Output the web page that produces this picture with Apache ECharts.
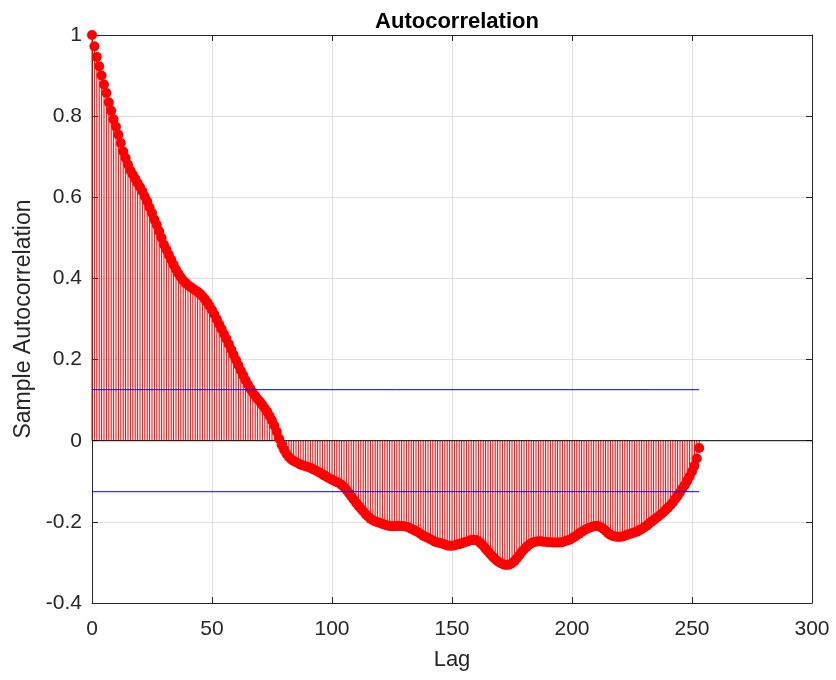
<!DOCTYPE html>
<html>
<head>
<meta charset="utf-8">
<script src="https://cdn.jsdelivr.net/npm/echarts@6/dist/echarts.min.js"></script>
<style>
html,body{margin:0;padding:0;background:#fff;}
#chart{width:836px;height:680px;}
</style>
</head>
<body>
<div id="chart"></div>
<script>
// Sample autocorrelation, lag 0..253 (index = lag)
const acf = [
 1.000, 0.972, 0.946, 0.923, 0.900, 0.878, 0.857, 0.834, 0.813, 0.792,
 0.774, 0.754, 0.734, 0.713, 0.697, 0.680, 0.666, 0.656, 0.646, 0.635,
 0.625, 0.615, 0.602, 0.590, 0.575, 0.561, 0.545, 0.532, 0.516, 0.500,
 0.483, 0.471, 0.458, 0.446, 0.434, 0.422, 0.412, 0.403, 0.395, 0.389,
 0.384, 0.379, 0.375, 0.371, 0.367, 0.362, 0.356, 0.349, 0.341, 0.332,
 0.322, 0.311, 0.299, 0.287, 0.275, 0.263, 0.251, 0.238, 0.225, 0.212,
 0.199, 0.186, 0.173, 0.161, 0.149, 0.138, 0.128, 0.119, 0.111, 0.103,
 0.096, 0.088, 0.080, 0.071, 0.061, 0.050, 0.037, 0.022, 0.005, -0.010,
 -0.022, -0.032, -0.040, -0.046, -0.050, -0.053, -0.056, -0.059, -0.061, -0.063,
 -0.065, -0.067, -0.070, -0.073, -0.076, -0.079, -0.083, -0.086, -0.090, -0.093,
 -0.096, -0.099, -0.102, -0.105, -0.109, -0.114, -0.121, -0.129, -0.137, -0.145,
 -0.153, -0.160, -0.167, -0.174, -0.181, -0.187, -0.192, -0.196, -0.199, -0.201,
 -0.203, -0.205, -0.207, -0.209, -0.210, -0.211, -0.211, -0.210, -0.210, -0.210,
 -0.211, -0.212, -0.214, -0.217, -0.220, -0.223, -0.226, -0.230, -0.234, -0.237,
 -0.240, -0.243, -0.246, -0.249, -0.251, -0.252, -0.254, -0.256, -0.258, -0.259,
 -0.259, -0.258, -0.256, -0.255, -0.253, -0.251, -0.249, -0.247, -0.245, -0.244,
 -0.245, -0.248, -0.253, -0.259, -0.266, -0.273, -0.280, -0.286, -0.292, -0.297,
 -0.301, -0.304, -0.306, -0.306, -0.305, -0.302, -0.297, -0.290, -0.283, -0.275,
 -0.268, -0.262, -0.257, -0.253, -0.250, -0.249, -0.248, -0.248, -0.249, -0.249,
 -0.250, -0.250, -0.251, -0.251, -0.251, -0.251, -0.250, -0.248, -0.246, -0.244,
 -0.241, -0.237, -0.233, -0.229, -0.225, -0.221, -0.218, -0.215, -0.213, -0.211,
 -0.210, -0.211, -0.213, -0.217, -0.222, -0.228, -0.232, -0.235, -0.236, -0.237,
 -0.237, -0.236, -0.234, -0.232, -0.230, -0.228, -0.226, -0.224, -0.221, -0.218,
 -0.214, -0.210, -0.205, -0.200, -0.196, -0.191, -0.187, -0.182, -0.177, -0.171,
 -0.165, -0.159, -0.152, -0.144, -0.136, -0.127, -0.118, -0.109, -0.099, -0.088,
 -0.076, -0.062, -0.044, -0.018
];
const confBound = 0.1257;
const xTicks = [0, 50, 100, 150, 200, 250, 300];
const yTicks = [-0.4, -0.2, 0, 0.2, 0.4, 0.6, 0.8, 1];

const pts = acf.map((v, i) => [i, v]);
const lastLag = acf.length - 1;
const axisColor = '#262626';
const font = 'Liberation Sans, Arial, Helvetica, sans-serif';

const chart = echarts.init(document.getElementById('chart'), null, {renderer: 'canvas'});
const baseX = {
  type: 'value', min: xTicks[0], max: xTicks[xTicks.length - 1], interval: 50
};
const baseY = {
  type: 'value', min: yTicks[0], max: yTicks[yTicks.length - 1], interval: 0.2
};
chart.setOption({
  animation: false,
  backgroundColor: '#ffffff',
  title: {
    text: 'Autocorrelation', left: 452, top: 6, textAlign: 'center',
    textStyle: {fontFamily: font, fontSize: 22, fontWeight: 'bold', color: '#000'}
  },
  grid: {left: 92, right: 24, top: 35, bottom: 77, show: false},
  xAxis: [
    Object.assign({}, baseX, {
      position: 'bottom',
      name: 'Lag', nameLocation: 'middle', nameGap: 46,
      nameTextStyle: {fontFamily: font, fontSize: 22, color: axisColor},
      axisLine: {show: true, onZero: false, lineStyle: {color: axisColor, width: 1}},
      axisTick: {show: true, inside: true, length: 6, lineStyle: {color: axisColor}},
      axisLabel: {fontFamily: font, fontSize: 21, color: axisColor, margin: 16},
      splitLine: {show: true, lineStyle: {color: '#dfdfdf', width: 1}}
    }),
    Object.assign({}, baseX, {
      position: 'top',
      axisLine: {show: true, onZero: false, lineStyle: {color: axisColor, width: 1}},
      axisTick: {show: true, inside: true, length: 6, lineStyle: {color: axisColor}},
      axisLabel: {show: false}, splitLine: {show: false}
    })
  ],
  yAxis: [
    Object.assign({}, baseY, {
      position: 'left',
      name: 'Sample Autocorrelation', nameLocation: 'middle', nameGap: 57, nameRotate: 90,
      nameTextStyle: {fontFamily: font, fontSize: 23, color: axisColor},
      axisLine: {show: true, onZero: false, lineStyle: {color: axisColor, width: 1}},
      axisTick: {show: true, inside: true, length: 6, lineStyle: {color: axisColor}},
      axisLabel: {fontFamily: font, fontSize: 21, color: axisColor, margin: 10,
        formatter: v => String(Math.round(v * 10) / 10)},
      splitLine: {show: true, lineStyle: {color: '#dfdfdf', width: 1}}
    }),
    Object.assign({}, baseY, {
      position: 'right',
      axisLine: {show: true, onZero: false, lineStyle: {color: axisColor, width: 1}},
      axisTick: {show: true, inside: true, length: 6, lineStyle: {color: axisColor}},
      axisLabel: {show: false}, splitLine: {show: false}
    })
  ],
  series: [
    {
      type: 'bar', name: 'stems', data: pts, barWidth: 1,
      itemStyle: {color: '#ff0000'}, z: 2, silent: true
    },
    {
      type: 'line', name: 'zero', data: [[xTicks[0], 0], [xTicks[xTicks.length - 1], 0]],
      symbol: 'none', lineStyle: {color: '#000000', width: 1}, z: 3, silent: true
    },
    {
      type: 'scatter', name: 'acf', data: pts, symbol: 'circle', symbolSize: 10,
      itemStyle: {color: '#ff0000', opacity: 1}, z: 4, silent: true
    },
    {
      type: 'line', name: 'upper', data: [[0, confBound], [lastLag, confBound]],
      symbol: 'none', lineStyle: {color: '#0000ff', width: 1}, z: 5, silent: true
    },
    {
      type: 'line', name: 'lower', data: [[0, -confBound], [lastLag, -confBound]],
      symbol: 'none', lineStyle: {color: '#0000ff', width: 1}, z: 5, silent: true
    }
  ]
});
</script>
</body>
</html>
